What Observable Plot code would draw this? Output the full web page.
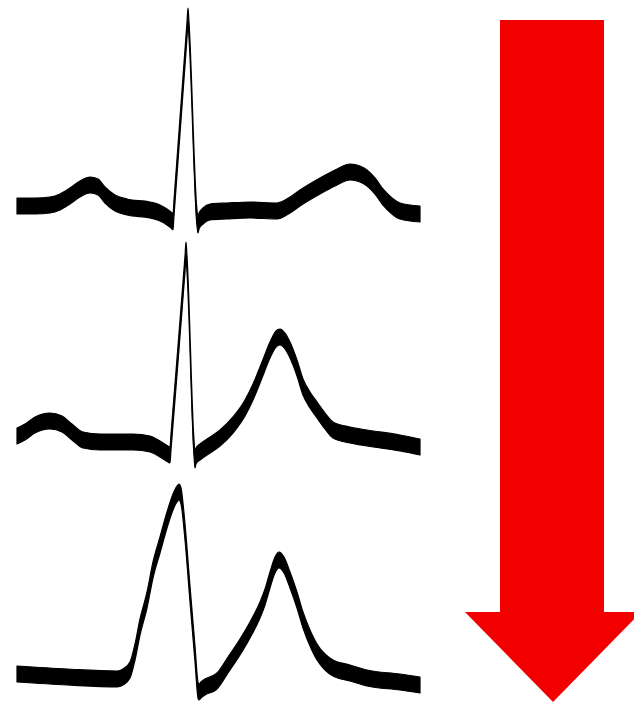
<!DOCTYPE html>
<html>
<head>
<meta charset="utf-8">
<script src="https://cdn.jsdelivr.net/npm/d3@7"></script>
<script src="https://cdn.jsdelivr.net/npm/@observablehq/plot@0.6"></script>
<style>
  html, body { margin: 0; padding: 0; background: #fff; overflow: hidden; }
</style>
</head>
<body>
<div id="chart"></div>
<script>
const trace1 = [
  [17,496],[35,496],[50,497],[60,500],[70,506],[80,513],[90,517],[98,515],[105,507],[115,499],
  [127,495],[150,492],[160,489],[167,485],[172,481],[173,480],[174,494],
  [187,672],[188,686],[189,672],
  [197,484],[198,477],[199,481],[203,486],[210,490],
  [227,491],[250,492],[277,491],[290,497],[300,504],[320,516],[335,524],[350,530],[360,528],
  [367,524],[375,516],[383,505],[392,496],[400,491],[420,488]
];
const trace2 = [
  [17,266],[25,270],[35,277],[50,281],[62,278],[72,270],[83,262],[100,260],[133,260],[150,258],
  [160,253],[168,248],[170,247],[171,260],
  [185,438],[186,452],[187,438],
  [194,254],[195,242],[196,246],[200,250],[207,255],[220,264],[233,277],[245,294],
  [253,310],[262,332],[270,352],[276,363],[280,365],[285,361],[290,352],[297,334],[303,315],
  [310,302],[317,292],[325,281],[333,272],[350,267],[367,264],[400,259],[420,255]
];
const trace3 = [
  [17,28],[67,25],[117,23],[123,25],[130,32],[135,50],[140,75],[147,102],[153,132],[160,157],
  [167,182],[173,200],[177,208],[179,210],[181,206],[185,170],[190,108],[195,48],
  [198,12],[199,10],[201,12],[205,15],[217,21],
  [228,37],[240,55],[250,72],[260,92],[265,105],[270,122],[275,137],[279,142],[284,137],
  [290,122],[297,102],[303,82],[310,64],[317,50],[325,40],[333,34],[350,29],[367,24],
  [400,20],[420,17]
];
// Arrow outline: level, left edge, right edge
const arrowLevels = [682, 90, 90, 0];
const arrowLeft   = [500, 500, 465, 553];
const arrowRight  = [604, 604, 641, 553];

const W = 634, H = 702;
const HALF = 8;     // half of the vertical pen width
const RED = "#f20000";

const toRows = (arr, name) => arr.map(([t, v]) => ({trace: name, t, v}));
const rows = [
  ...toRows(trace1, "1"),
  ...toRows(trace2, "2"),
  ...toRows(trace3, "3")
];
const arrow = arrowLevels.map((y, i) => ({y, x1: arrowLeft[i], x2: arrowRight[i]}));

const chart = Plot.plot({
  width: W,
  height: H,
  margin: 0,
  x: {domain: [0, W], range: [0, W], axis: null},
  y: {domain: [0, H], range: [H, 0], axis: null},
  marks: [
    Plot.areaY(rows, {
      x: "t",
      y1: d => d.v - HALF,
      y2: d => d.v + HALF,
      z: "trace",
      fill: "black",
      stroke: "black",
      strokeWidth: 1.2,
      curve: "monotone-x"
    }),
    Plot.areaX(arrow, {
      y: "y",
      x1: "x1",
      x2: "x2",
      fill: RED,
      curve: "linear"
    })
  ]
});
document.getElementById("chart").appendChild(chart);
</script>
</body>
</html>
